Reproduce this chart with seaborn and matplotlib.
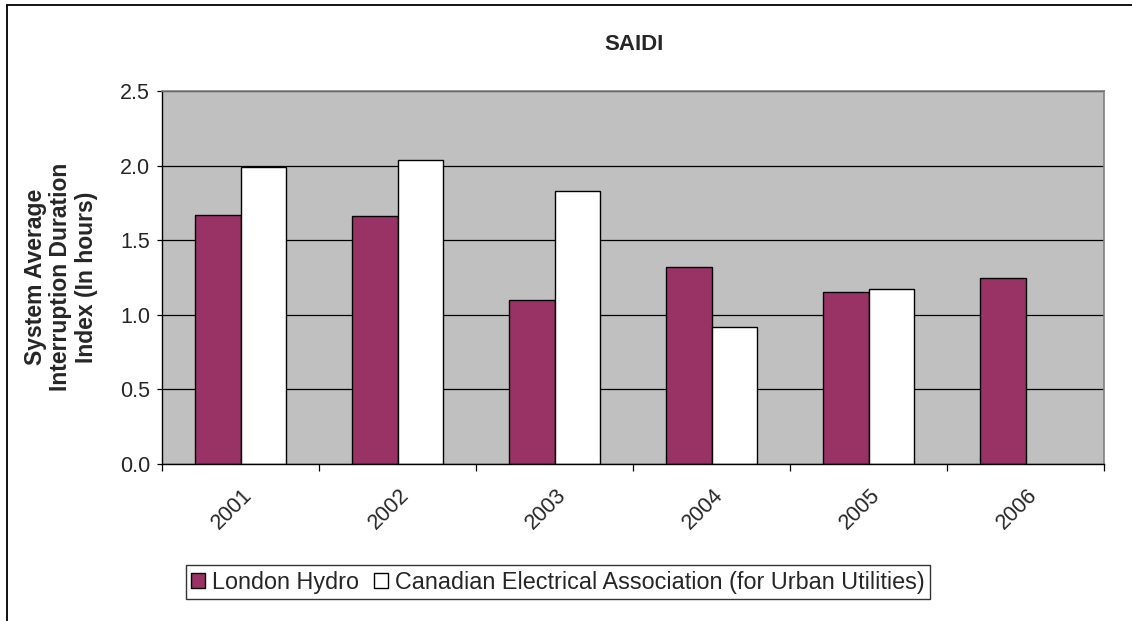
import numpy as np
import pandas as pd
import matplotlib
matplotlib.use("Agg")
import matplotlib.pyplot as plt
from matplotlib.lines import Line2D
from matplotlib.transforms import ScaledTranslation
import seaborn as sns

# Reliability data (hours)
years = ["2001", "2002", "2003", "2004", "2005", "2006"]
london_hydro = [1.67, 1.66, 1.10, 1.32, 1.15, 1.25]
cea_urban = [1.99, 2.04, 1.83, 0.92, 1.17, np.nan]
series_names = ["London Hydro", "Canadian Electrical Association (for Urban Utilities)"]
yticks = [0.0, 0.5, 1.0, 1.5, 2.0, 2.5]

df = pd.DataFrame({
    "Year": years * 2,
    "SAIDI": london_hydro + cea_urban,
    "Series": [series_names[0]] * len(years) + [series_names[1]] * len(years),
})

sns.set_theme(style="white")
plt.rcParams["font.family"] = ["Liberation Sans", "DejaVu Sans"]

W, H = 1132, 621
fig = plt.figure(figsize=(W / 100, H / 100), dpi=100)
fig.patch.set_facecolor("white")

ax = fig.add_axes([162 / W, 1 - 464 / H, (1104 - 162) / W, (464 - 91) / H])
ax.set_facecolor("#C0C0C0")

sns.barplot(
    data=df, x="Year", y="SAIDI", hue="Series", hue_order=series_names,
    order=years, palette=["#993366", "#FFFFFF"], width=0.574, gap=0,
    edgecolor="black", linewidth=1.0, saturation=1, ax=ax, errorbar=None,
)

handles, labels = ax.get_legend_handles_labels()
if ax.get_legend() is not None:
    ax.get_legend().remove()

tick_fs = 15.5
ax.set_ylim(0, 2.5)
ax.set_xlim(-0.5, len(years) - 0.5)
ax.set_yticks(yticks)
ax.set_yticklabels([f"{v:.1f}" for v in yticks], fontsize=tick_fs)
ax.yaxis.grid(True, color="black", linewidth=0.9)
ax.xaxis.grid(False)
ax.set_axisbelow(True)

# category ticks: labels at centres, tick marks at boundaries
ax.set_xticks(range(len(years)))
ax.set_xticklabels(years, fontsize=tick_fs, rotation=45, ha="right", va="center",
                   rotation_mode="anchor")
ax.set_xticks(np.arange(-0.5, len(years)), minor=True)
ax.tick_params(axis="x", which="major", length=0, pad=20)
ax.tick_params(axis="x", which="minor", length=5, width=0.9, color="black", direction="out", bottom=True)
ax.tick_params(axis="y", which="major", length=3.5, width=0.9, color="black", direction="out", left=True, pad=5)
offset = ScaledTranslation(9 / 100, 0, fig.dpi_scale_trans)
for lbl in ax.get_xticklabels():
    lbl.set_transform(lbl.get_transform() + offset)

ax.set_xlabel("")
ax.set_ylabel("")

for side in ["left", "bottom"]:
    ax.spines[side].set_color("black")
    ax.spines[side].set_linewidth(1.0)
for side in ["top", "right"]:
    ax.spines[side].set_color("#808080")
    ax.spines[side].set_linewidth(1.2)
ax.spines["bottom"].set_zorder(5)

fig.text(634 / W, 1 - 45 / H, "SAIDI", fontsize=16, fontweight="bold",
         ha="center", va="center")
fig.text(61 / W, 1 - 277 / H,
         "System Average\nInterruption Duration\nIndex (In hours)",
         fontsize=16.5, fontweight="bold", rotation=90, ha="center", va="center",
         multialignment="center", linespacing=1.12)

leg = fig.legend(handles, labels, loc="center", bbox_to_anchor=(558 / W, 1 - 582 / H),
                 ncol=2, fontsize=16.8, frameon=True, fancybox=False,
                 handlelength=0.6, handleheight=0.6, handletextpad=0.3,
                 columnspacing=0.65, borderpad=0.22, borderaxespad=0)
leg.get_frame().set_edgecolor("black")
leg.get_frame().set_linewidth(1.0)

# outer chart border
fig.add_artist(Line2D([7 / W, 1.0], [1 - 5 / H, 1 - 5 / H], color="black", linewidth=1.3,
                      transform=fig.transFigure))
fig.add_artist(Line2D([7 / W, 7 / W], [0.0, 1 - 5 / H], color="black", linewidth=1.3,
                      transform=fig.transFigure))

fig.savefig("out.png", dpi=100)
